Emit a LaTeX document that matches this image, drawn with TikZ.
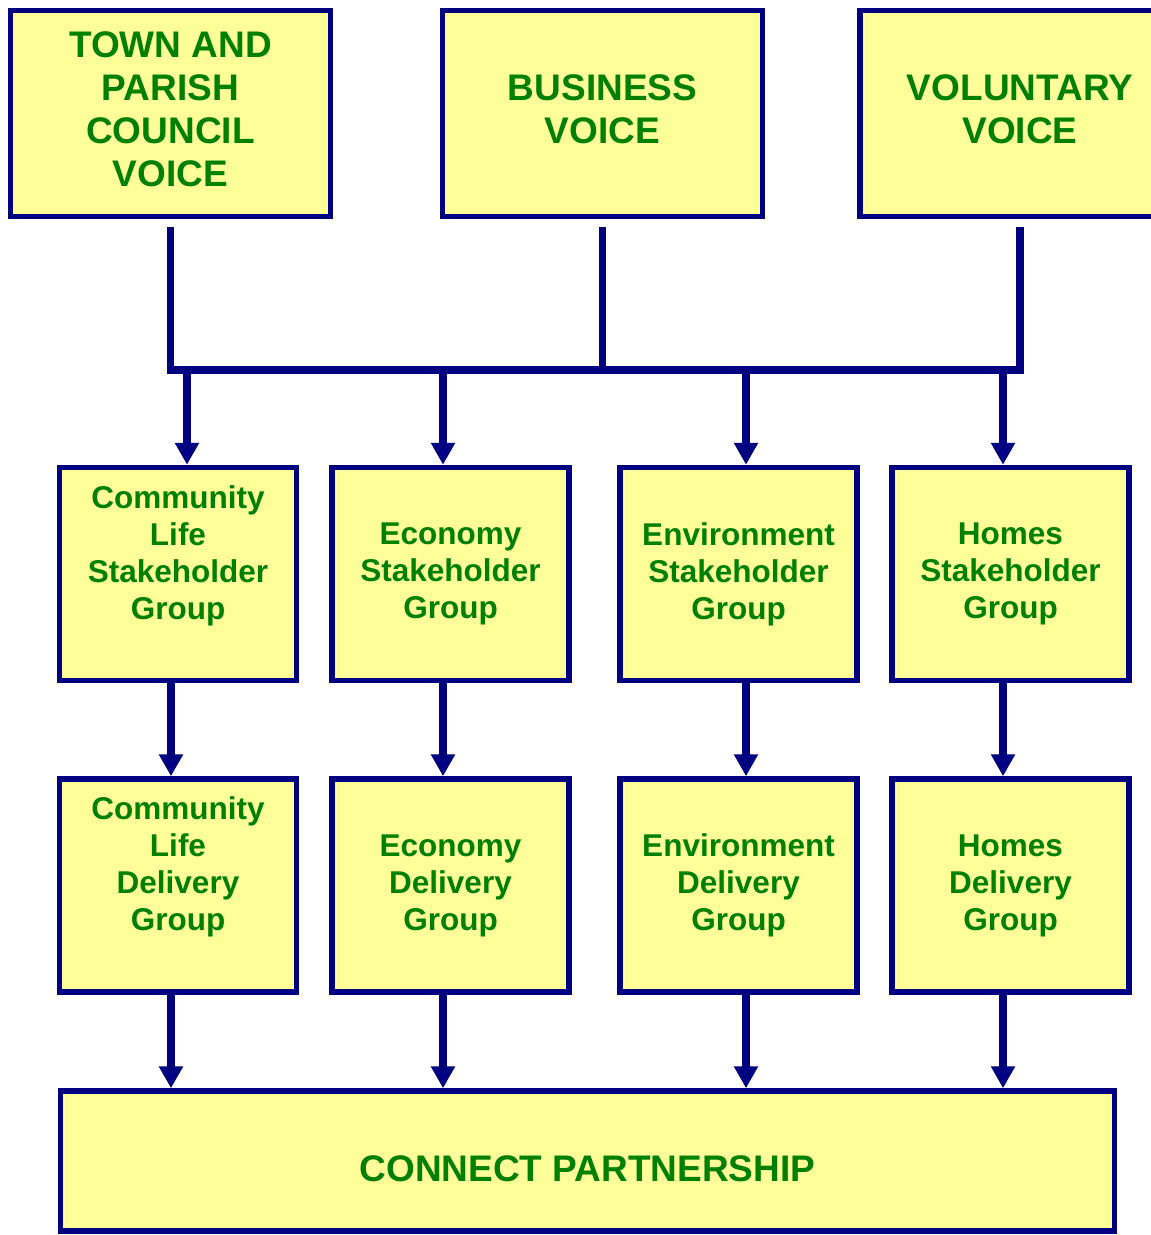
\documentclass[tikz,border=0pt]{standalone}
\usepackage{fontspec}
\setmainfont{Liberation Sans}
\usetikzlibrary{arrows.meta, positioning}
\definecolor{boxnavy}{RGB}{0,0,128}
\definecolor{boxyellow}{RGB}{255,255,153}
\definecolor{textgreen}{RGB}{0,128,0}

\begin{document}
\begin{tikzpicture}[x=1pt, y=-1pt, >={Triangle[length=22pt, width=23pt]},
    voice/.style={draw=boxnavy, fill=boxyellow, line width=5.5pt, minimum width=320pt, minimum height=206pt, inner sep=0pt, align=center, text=textgreen, font=\fontsize{37}{43}\selectfont\bfseries},
    group/.style={voice, minimum width=237pt, minimum height=213pt, font=\fontsize{31.5}{37}\selectfont\bfseries},
    link/.style={boxnavy, line width=7.5pt},
    feed/.style={link, ->}]
    \useasboundingbox (0,0) rectangle (1151,1235);
    \clip (0,0) rectangle (1151,1235);

    % Voices
    \node[voice] (tpc) at (170.5,113.5) {TOWN AND\\PARISH\\COUNCIL\\VOICE\\[-35pt]\mbox{}};
    \node[voice] (biz) at (602.5,113.5) {BUSINESS\\VOICE\\[-35pt]\mbox{}};
    \node[voice] (vol) at (1020,113.5) {VOLUNTARY\\VOICE\\[-35pt]\mbox{}};

    % Stakeholder groups
    \node[group] (clsg) at (178,574) {Community\\Life\\Stakeholder\\Group\\[6pt]\mbox{}};
    \node[group] (ecsg) at (450.5,574) {Economy\\Stakeholder\\Group};
    \node[group] (ensg) at (738.5,574) {Environment\\Stakeholder\\Group};
    \node[group] (hosg) at (1010.5,574) {Homes\\Stakeholder\\Group};

    % Delivery groups
    \node[group] (cldg) at (178,885.5) {Community\\Life\\Delivery\\Group\\[6pt]\mbox{}};
    \node[group] (ecdg) at (450.5,885.5) {Economy\\Delivery\\Group};
    \node[group] (endg) at (738.5,885.5) {Environment\\Delivery\\Group};
    \node[group] (hodg) at (1010.5,885.5) {Homes\\Delivery\\Group};

    % Partnership
    \node[voice, minimum width=1054pt, minimum height=140pt, text height=40pt, text depth=0pt] (cp) at (587.5,1161) {CONNECT PARTNERSHIP};

    % Voices into the rail
    \coordinate (rail) at (602.5,370);
    \draw[link] ([yshift=-8pt]tpc.south) |- (rail) -| ([yshift=-8pt]vol.south);
    \draw[link] ([yshift=-8pt]biz.south) -- (rail);

    % Rail to stakeholder groups
    \foreach \n/\x in {clsg/187, ecsg/443, ensg/746, hosg/1003}
        \draw[feed] (rail -| \x,0) -- (\n.north -| \x,0);

    % Stakeholder to delivery groups
    \foreach \a/\b/\x in {clsg/cldg/171, ecsg/ecdg/443, ensg/endg/746, hosg/hodg/1003}
        \draw[feed] (\a.south -| \x,0) -- (\b.north -| \x,0);

    % Delivery groups to partnership
    \foreach \a/\x in {cldg/171, ecdg/443, endg/746, hodg/1003}
        \draw[feed] (\a.south -| \x,0) -- (cp.north -| \x,0);
\end{tikzpicture}
\end{document}
